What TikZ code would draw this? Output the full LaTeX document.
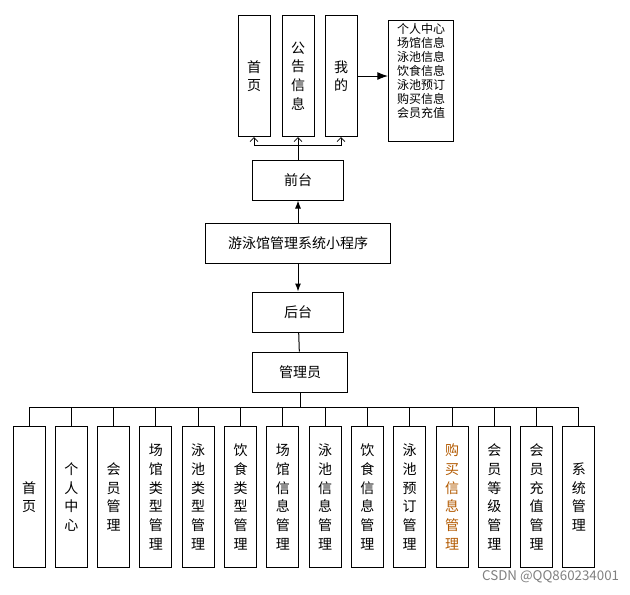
\documentclass[tikz,border=0pt]{standalone}
\usepackage{fontspec}
\setmainfont{Noto Sans CJK SC}
\usetikzlibrary{arrows.meta}
\tikzset{every picture/.style={line width=0.75pt}}
\tikzset{
  box/.style={draw, inner sep=0pt, align=center, font=\fontsize{10.5}{14}\selectfont},
  col/.style={box, minimum width=24pt, minimum height=106pt},
  topcol/.style={box, minimum width=24pt, minimum height=91pt},
  hbox/.style={box, minimum height=30pt}
}

\begin{document}
\begin{tikzpicture}[x=0.75pt,y=0.75pt,yscale=-1,xscale=1]
\useasboundingbox (0,0) rectangle (630,594);
% top level
\node[topcol] (home) at (254,76) {首\\页};
\node[topcol] (notice) at (298,76) {公\\告\\信\\息};
\node[topcol] (mine) at (341,76) {我\\的};
\node[box, minimum width=49pt, minimum height=83pt, anchor=north west, align=left, font=\fontsize{9}{10.5}\selectfont, inner sep=2pt] (mlist) at (388,20) {个人中心\\场馆信息\\泳池信息\\饮食信息\\泳池预订\\购买信息\\会员充值\\[6pt]};
\node[hbox, minimum width=68pt] (front) at (298,180) {前台};
\node[hbox, minimum width=139pt] (app) at (298,243) {游泳馆管理系统小程序};
\node[hbox, minimum width=68pt] (back) at (298,312) {后台};
\node[hbox, minimum width=71pt] (admin) at (300,372) {管理员};
% bottom level
\foreach \i/\t in {0/{首\\页},1/{个\\人\\中\\心},2/{会\\员\\管\\理},3/{场\\馆\\类\\型\\管\\理},
  4/{泳\\池\\类\\型\\管\\理},5/{饮\\食\\类\\型\\管\\理},6/{场\\馆\\信\\息\\管\\理},
  7/{泳\\池\\信\\息\\管\\理},8/{饮\\食\\信\\息\\管\\理},9/{泳\\池\\预\\订\\管\\理},
  10/{\textcolor{orange!70!black}{购}\\\textcolor{orange!70!black}{买}\\\textcolor{orange!70!black}{信}\\\textcolor{orange!70!black}{息}\\\textcolor{orange!70!black}{管}\\\textcolor{orange!70!black}{理}},
  11/{会\\员\\等\\级\\管\\理},12/{会\\员\\充\\值\\管\\理},13/{系\\统\\管\\理}}
  \node[col] (b\i) at (29+42.3*\i,497) {\t};
\coordinate (bus) at (300,407);
\foreach \i in {0,...,13}
  \draw (b\i.north) |- (bus);
\draw (admin) -- (bus);
\draw (back) -- (admin);
\draw[-{Latex[length=6pt]}] (app) -- (front);
\draw[-{Latex[length=6pt]}] (app) -- (back);
\coordinate (tbus) at (298,145);
\draw (front) -- (tbus);
\foreach \n in {home,notice,mine}
  \draw[-{Straight Barb[length=3pt]}, line width=0.5pt] (tbus) -| (\n.south);
\draw[-{Latex[length=8pt]}] (mine.east) -- (mine.east -| mlist.west);
\node[anchor=south east, text=gray, font=\fontsize{10}{12}\selectfont] (mark) at (624,588) {CSDN @QQ860234001};
\end{tikzpicture}
\end{document}
